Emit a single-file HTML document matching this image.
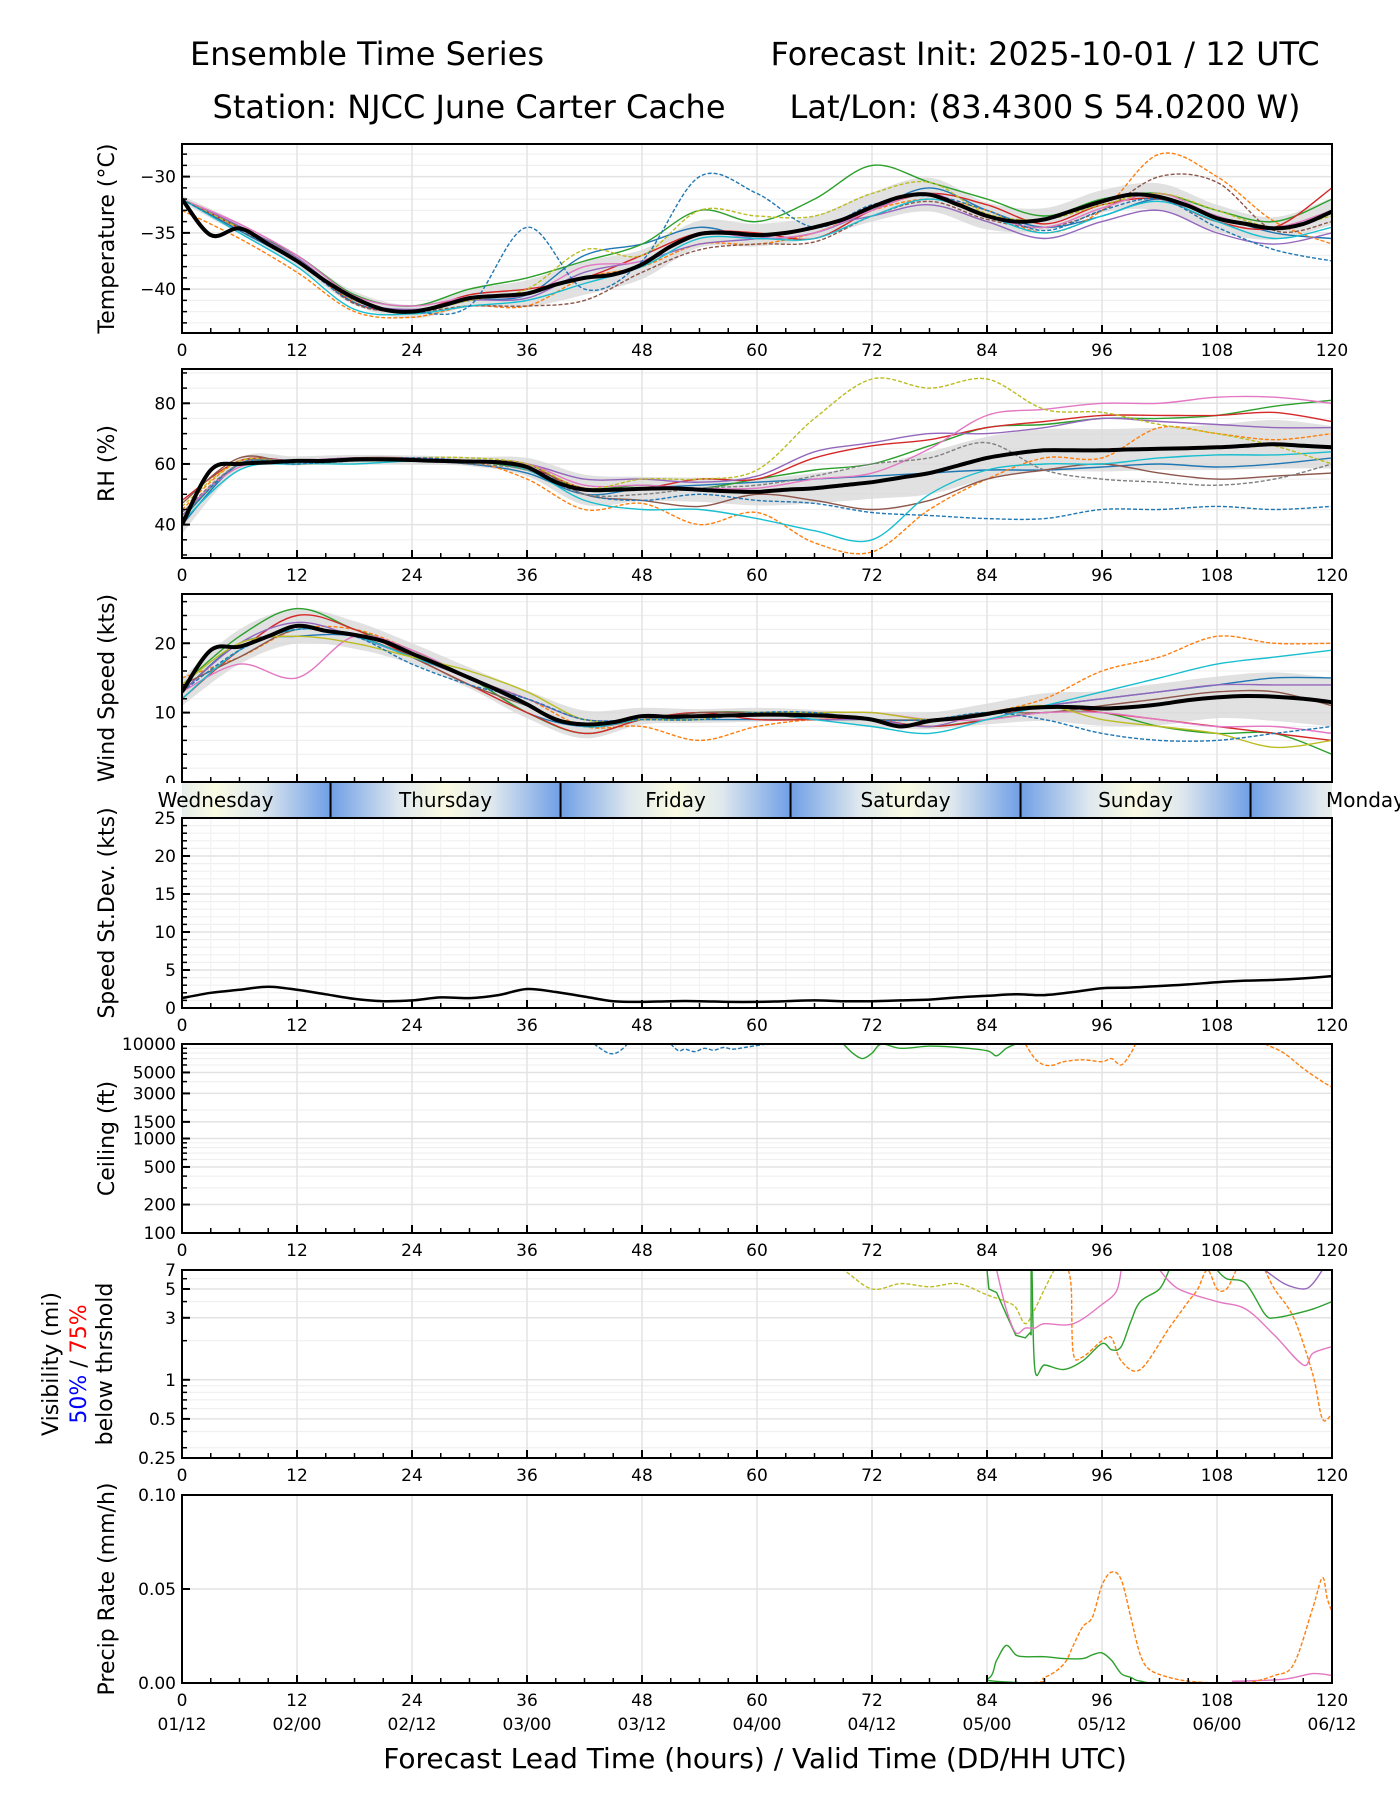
<!DOCTYPE html>
<html><head><meta charset="utf-8">
<style>
html,body{margin:0;padding:0;background:#fff;}
svg{display:block;font-family:"DejaVu Sans","Liberation Sans",sans-serif;}
</style></head>
<body>
<svg id="fig" width="1400" height="1800" viewBox="0 0 1400 1800" xmlns="http://www.w3.org/2000/svg">
<defs>
<linearGradient id="dayg" x1="0" x2="1" y1="0" y2="0">
<stop offset="0" stop-color="#6f9fe6"/><stop offset="0.3" stop-color="#dfe8ee"/><stop offset="0.5" stop-color="#fbfbe2"/><stop offset="0.7" stop-color="#dfe8ee"/><stop offset="1" stop-color="#6f9fe6"/>
</linearGradient>
<clipPath id="cp1"><rect x="182" y="144" width="1150" height="189"/></clipPath>
<clipPath id="cp2"><rect x="182" y="369" width="1150" height="189"/></clipPath>
<clipPath id="cp3"><rect x="182" y="594" width="1150" height="188"/></clipPath>
<clipPath id="cp4"><rect x="182" y="818" width="1150" height="190"/></clipPath>
<clipPath id="cp5"><rect x="182" y="1044" width="1150" height="189"/></clipPath>
<clipPath id="cp6"><rect x="182" y="1270" width="1150" height="188"/></clipPath>
<clipPath id="cp7"><rect x="182" y="1495" width="1150" height="188"/></clipPath>
<clipPath id="cpb"><rect x="140" y="783" width="1260" height="35"/></clipPath>
</defs>
<g id="titles" font-size="32" fill="#000">
<text x="367" y="65" text-anchor="middle">Ensemble Time Series</text>
<text x="1045" y="65" text-anchor="middle">Forecast Init: 2025-10-01 / 12 UTC</text>
<text x="469" y="118" text-anchor="middle">Station: NJCC June Carter Cache</text>
<text x="1045" y="118" text-anchor="middle">Lat/Lon: (83.4300 S 54.0200 W)</text>
</g>
<g id="plots"></g>
<text x="755" y="1768" font-size="28" text-anchor="middle">Forecast Lead Time (hours) / Valid Time (DD/HH UTC)</text>
</svg>
<script>
// ---------- DATA ----------
const hours3 = []; for(let h=0;h<=120;h+=3) hours3.push(h);
const hours6 = []; for(let h=0;h<=120;h+=6) hours6.push(h);
const tempMean = [-32,-35.2,-34.6,-36,-37.5,-39.3,-40.8,-41.8,-42,-41.5,-40.8,-40.6,-40.4,-39.6,-39,-38.7,-37.8,-36.2,-35.1,-35,-35.2,-35,-34.5,-33.8,-32.7,-31.8,-31.6,-32.5,-33.5,-34,-33.8,-33,-32.2,-31.6,-31.8,-32.6,-33.7,-34.2,-34.6,-34.2,-33.1];
const tempSpread = [0.3,0.5,0.5,0.6,0.6,0.8,1.2,1.5,1.3,1.2,1,1,1.3,1.5,1.2,1,1,1.2,1.2,1,1.2];
const tempM0 = [-32,-34.8,-37.6,-41,-42,-41,-40.5,-37,-36,-34.5,-35.5,-35,-33,-31,-33,-34.5,-33.5,-32,-33.5,-35,-35.5];
const tempM1 = [-33,-35.5,-38.5,-42,-42.5,-41.5,-41.5,-39,-38,-36,-36,-35,-33,-32,-33,-35,-33,-28,-30,-34,-36];
const tempM2 = [-32,-34.5,-37,-40.5,-41.5,-40,-39,-37.5,-36,-33,-34,-32,-29,-30.5,-32,-33.5,-32,-31.5,-33,-34,-32];
const tempM3 = [-32,-34.6,-37.4,-41.2,-42,-40.5,-40,-39,-37,-35,-35,-35.5,-33,-31.5,-32.5,-34.2,-32.5,-32,-34,-34.5,-31];
const tempM4 = [-32,-34.4,-37.2,-41,-41.8,-41,-40.8,-38.5,-37.5,-36,-35.5,-34.5,-33.5,-32.5,-34,-35.5,-34,-33,-35,-36,-35];
const tempM5 = [-32,-34.8,-37.4,-41.3,-42,-41.5,-41.5,-41,-38.5,-36.5,-36,-35.8,-33.5,-32.2,-33.8,-34.5,-33,-30,-30.5,-34.8,-34];
const tempM6 = [-32,-34.2,-37,-40.6,-41.5,-40.7,-40.5,-38,-37.5,-35,-35.5,-35,-33,-31.5,-33.5,-34.5,-32.8,-31.5,-33.5,-34.5,-33];
const tempM7 = [-32,-35,-38,-41.8,-42.2,-41.5,-41,-39.5,-38,-35.5,-35.5,-35.5,-33.5,-32,-33.5,-35,-33.5,-32.2,-34,-35.5,-34.5];
const tempM8 = [-32,-34.6,-37.5,-41,-42,-41,-40,-36.5,-37,-33,-33.5,-33.5,-31.5,-30.5,-33.3,-33.8,-32.5,-31.5,-33,-34.5,-33.5];
const tempM9 = [-32,-34.8,-37.6,-41.2,-42,-41.5,-34.5,-40,-37.5,-30,-31.5,-34.5,-32.5,-31.7,-33,-34.8,-33,-32,-34.5,-36.5,-37.5];
const rhMean = [40,58,60,60.5,61,61,61.5,61.5,61.3,61,60.8,60.5,59,54,51.5,51.5,51.8,52,51.5,51,50.8,51.5,52,53,54,55.5,57,59.5,62,63.5,64.5,64.5,64.5,64.8,65,65.2,65.5,66,66.5,66,65.5];
const rhSpread = [3,2,1.5,1.5,1.5,1.5,3,5,4,4,4.5,5,5.5,7,7,7,7,7,7.5,8,7];
const rhM0 = [40,60,61,61,61,60,57,50,52,53,54,55,56,57,58,58,59,60,59,60,62];
const rhM1 = [45,61,60,61,61,61,55,45,47,40,44,34,31,45,55,62,62,72,70,68,70];
const rhM2 = [42,60,60,61,61,61,58,52,53,52,55,58,60,66,72,73,75,75,76,79,81];
const rhM3 = [48,61,61,62,61,61,59,52,52,55,55,62,66,68,72,74,76,76,76,77,74];
const rhM4 = [43,60,61,62,62,61,60,55,55,54,56,64,67,70,70,72,75,74,73,72,72];
const rhM5 = [47,62,60,62,62,61,60,50,48,46,50,48,45,48,55,58,60,57,55,56,57];
const rhM6 = [44,59,60,61,62,61,60,53,53,52,52,55,57,65,76,78,80,80,82,82,80];
const rhM7 = [41,58,60,60,61,61,58,48,45,45,42,38,35,50,58,60,60,62,63,63,64];
const rhM8 = [46,61,60,61,62,62,60,52,55,55,58,75,88,85,88,78,77,73,70,66,60];
const rhM9 = [42,60,60,61,62,61,59,50,48,50,48,47,44,43,42,42,45,45,46,45,46];
const rhM10 = [44,60,61,61,61,60,58,50,50,52,53,56,60,62,67,58,55,54,53,55,60];
const windMean = [13,19,19.5,21,22.5,21.8,21.2,20.3,18.5,16.8,15,13.2,11.2,9,8.3,8.6,9.5,9.4,9.5,9.6,9.7,9.7,9.6,9.4,9,8,8.8,9.2,9.8,10.5,10.8,10.8,10.6,10.8,11.2,11.8,12.2,12.4,12.3,12,11.5];
const windSpread = [2,2.5,2.5,2,1.5,1.5,2,2,1.2,1,1,0.8,1,1.2,1.5,2,2.5,3,3,3.5,3.5];
const windM0 = [13,20,21,21,18,15,10,8,9,9,9,9,9,9,10,11,12,13,14,15,15];
const windM1 = [15,18,22,22,19,15,12,8,8,6,8,9,9,9,10,12,16,18,21,20,20];
const windM2 = [14,21,25,22,19,15,10,7,9,10,10,9,9,8,9,10,10,8,7,7,4];
const windM3 = [12,19,24,22,18,14,10,7,9,10,9,9,9,8,9,11,10,9,8,7,6];
const windM4 = [13,20,23,21,18,15,12,9,9,9,10,9,9,8,10,11,12,13,14,14,14];
const windM5 = [14,18,22,21,18,14,11,8,9,10,10,10,9,9,10,10,11,12,13,13,11];
const windM6 = [13,17,15,21,19,15,11,8,9,9,10,10,10,9,9,10,10,9,8,8,7];
const windM7 = [12,19,22,21,18,15,11,8,9,9,10,9,8,7,9,11,13,15,17,18,19];
const windM8 = [14,20,21,20,18,16,13,9,9,9,10,10,10,9,10,11,9,8,7,5,6];
const windM9 = [13,19,22,21,17,14,12,9,9,9,10,10,9,9,10,9,7,6,6,7,8];
const sdevVals = [1.3,2.0,2.4,2.8,2.4,1.8,1.2,0.9,1.0,1.4,1.3,1.7,2.5,2.1,1.5,0.9,0.8,0.9,0.9,0.8,0.8,0.9,1.0,0.9,0.9,1.0,1.1,1.4,1.6,1.8,1.7,2.1,2.6,2.7,2.9,3.1,3.4,3.6,3.7,3.9,4.2];
const ceilBlueA_h = [43,44.5,45.5,46.5]; const ceilBlueA_v = [10000,8000,8200,10000];
const ceilBlueB_h = [51,51.8,52.5,53.5,54.5,55.5,56.5,57.5,59,61]; const ceilBlueB_v = [10000,8500,8800,8300,9000,8600,9200,8800,9300,10000];
const ceilGreen_h = [69,70,71,72,73,75,78,81,84,85,86,87]; const ceilGreen_v = [10000,8000,7000,8000,10000,9000,9500,9200,8500,7500,9000,10000];
const ceilOrgA_h = [88,89,90,91,92,94,96,97,98,99,99.5]; const ceilOrgA_v = [10000,7000,6000,6000,6500,6800,6500,7000,6000,8000,10000];
const ceilOrgB_h = [113,115,117,119,120]; const ceilOrgB_v = [10000,8000,5500,4000,3500];
const visOlive_h = [66,69,72,75,78,81,84,86,87,88,89,90,91]; const visOlive_v = [9,7,5,5.5,5.2,5.5,4.5,4,3.6,2.7,3.5,5,7];
const visGreenA_h = [84,84.2,85,86,87,88,88.5,88.6,88.6]; const visGreenA_v = [7,5,4.7,3.2,2.2,2.1,2.3,2.2,7];
const visGreenB_h = [88.7,89,90,92,94,96,97,98,99,100,102,103]; const visGreenB_v = [7,1.2,1.3,1.2,1.4,1.9,1.7,1.8,2.8,4,5,7];
const visGreenC_h = [108,109,111,113,114,116,118,120]; const visGreenC_v = [7,6,5.5,3.2,3,3.2,3.5,4];
const visPinkA_h = [85,86,87,88,89,90,93,96,97.5,98]; const visPinkA_v = [7,3.5,2.3,2.5,2.5,2.7,2.7,3.8,4.8,7];
const visPinkB_h = [102,104,108,111,114,117,118,120]; const visPinkB_v = [7,5,4,3.5,2.2,1.3,1.6,1.8];
const visOrgA_h = [92.5,92.8,93,94,96,97,98,100,103,105,106,107,108,109,110]; const visOrgA_v = [7,5,1.6,1.5,2,2.1,1.4,1.2,2.5,4,5,7,5,5,7];
const visOrgB_h = [113,114,116,118,119,120]; const visOrgB_v = [7,5,3,1.1,0.5,0.55];
const visPurple_h = [113,115,117,118,119]; const visPurple_v = [7,5.5,5,5.5,7];
const prOrg_h = [0,60,87,90,92,93,94,95,96,97,98,99,100,101,103,105,108,111,114,116,118,119,119.5,120]; const prOrg_v = [0,0,0,0.003,0.01,0.02,0.03,0.035,0.052,0.059,0.055,0.035,0.015,0.007,0.003,0.001,0,0,0.004,0.01,0.04,0.056,0.045,0.038];
const prGreen_h = [0,80,84,85,86,87,88,90,92,94,95,96,97,98,99,100,103,120]; const prGreen_v = [0,0,0.002,0.012,0.02,0.015,0.014,0.014,0.013,0.013,0.015,0.016,0.012,0.005,0.003,0.001,0,0];
const prPink_h = [0,100,110,115,118,120]; const prPink_v = [0,0,0.001,0.002,0.005,0.004];
const xTickHours = [0,12,24,36,48,60,72,84,96,108,120];
const dateLabels = ["01/12","02/00","02/12","03/00","03/12","04/00","04/12","05/00","05/12","06/00","06/12"];
const dayNames = ["Wednesday","Thursday","Friday","Saturday","Sunday","Monday"];
const dayStarts = [-8.5,15.5,39.5,63.5,87.5,111.5];

// ---------- HELPERS ----------
const NS="http://www.w3.org/2000/svg";
const root=document.getElementById('plots');
const X0=182, X1=1332;
function xs(h){return X0+(X1-X0)*h/120;}
function mk(tag,attrs,parent){const e=document.createElementNS(NS,tag);for(const k in attrs)e.setAttribute(k,attrs[k]);(parent||root).appendChild(e);return e;}
function smoothPath(pts){
  if(pts.length<2)return '';
  let d='M'+pts[0][0].toFixed(1)+','+pts[0][1].toFixed(1);
  for(let i=0;i<pts.length-1;i++){
    const p0=pts[i-1]||pts[i],p1=pts[i],p2=pts[i+1],p3=pts[i+2]||p2;
    const c1=[p1[0]+(p2[0]-p0[0])/6,p1[1]+(p2[1]-p0[1])/6],c2=[p2[0]-(p3[0]-p1[0])/6,p2[1]-(p3[1]-p1[1])/6];
    d+='C'+c1[0].toFixed(1)+','+c1[1].toFixed(1)+' '+c2[0].toFixed(1)+','+c2[1].toFixed(1)+' '+p2[0].toFixed(1)+','+p2[1].toFixed(1);
  }
  return d;
}
const tab=['#1f77b4','#ff7f0e','#2ca02c','#d62728','#9467bd','#8c564b','#e377c2','#17becf','#bcbd22','#1f77b4','#7f7f7f'];

function panel(o){
  const g=mk('g',{});
  
  
  const {top,bot}=o;
  const ys=o.ys;
  (o.minorY||[]).forEach(v=>{const y=ys(v);mk('line',{x1:X0,x2:X1,y1:y,y2:y,stroke:'#f0f0f0','stroke-width':1.2},g);});
  for(let h=3;h<120;h+=3){ if(h%12===0)continue; if(o.minorX){const x=xs(h);mk('line',{x1:x,x2:x,y1:top,y2:bot,stroke:'#f3f3f3','stroke-width':1.2},g);} }
  o.yticks.forEach(v=>{const y=ys(v);mk('line',{x1:X0,x2:X1,y1:y,y2:y,stroke:'#e3e3e3','stroke-width':1.5},g);});
  xTickHours.forEach(h=>{const x=xs(h);mk('line',{x1:x,x2:x,y1:top,y2:bot,stroke:'#e3e3e3','stroke-width':1.5},g);});
  const d=mk('g',{'clip-path':'url(#'+o.clip+')'},g);
  o.draw(d,ys);
  const fr=mk('rect',{x:X0,y:top,width:X1-X0,height:bot-top,fill:'none',stroke:'#000','stroke-width':2},g);
  
  
  for(let h=0;h<=120;h+=3){const x=xs(h);const L=h%12===0?8:5;mk('line',{x1:x,x2:x,y1:bot,y2:bot-L,stroke:'#000','stroke-width':h%12===0?2:1.5},g);}
  xTickHours.forEach(h=>{const t=mk('text',{x:xs(h),y:bot+23,'font-size':17,'text-anchor':'middle'},g);t.textContent=h;
    
    });
  (o.minorY||[]).forEach(v=>{const y=ys(v);mk('line',{x1:X0,x2:X0+5,y1:y,y2:y,stroke:'#000','stroke-width':1.5},g);});
  o.yticks.forEach((v,i)=>{const y=ys(v);mk('line',{x1:X0,x2:X0+8,y1:y,y2:y,stroke:'#000','stroke-width':2},g);
    const t=mk('text',{x:X0-6,y:y+6,'font-size':17,'text-anchor':'end'},g);t.textContent=o.ylabels[i];
    
    });
  const cy=(top+bot)/2;
  if(o.ytitle){const t=mk('text',{x:0,y:0,'font-size':22,'text-anchor':'middle',transform:'translate('+(o.ytx||114)+','+cy+') rotate(-90)'},g);t.textContent=o.ytitle;
    
    }
  return g;
}
function lin(lo,hi,top,bot){return v=>bot-(v-lo)/(hi-lo)*(bot-top);}
function logs(lo,hi,top,bot){return v=>bot-(Math.log10(v)-Math.log10(lo))/(Math.log10(hi)-Math.log10(lo))*(bot-top);}
function ensemble(g,ys,mean,spread,members,dashes){
  const up=[],lo=[];
  hours6.forEach((h,i)=>{const m=mean[i*2];up.push([xs(h),ys(m+spread[i])]);lo.push([xs(h),ys(m-spread[i])]);});
  const band=mk('path',{d:smoothPath(up)+'L'+smoothPath(lo.slice().reverse()).slice(1)+'Z',fill:'#d9d9d9',opacity:0.8},g);
  
  
  members.forEach((arr,k)=>{
    const p=mk('path',{d:smoothPath(hours6.map((h,i)=>[xs(h),ys(arr[i])])),fill:'none',stroke:tab[k%tab.length],'stroke-width':1.4,'stroke-dasharray':dashes[k]?'4,2':'none'},g);
    
    
  });
  const ml=mk('path',{d:smoothPath(hours3.map((h,i)=>[xs(h),ys(mean[i])])),fill:'none',stroke:'#000','stroke-width':4},g);
  
  
}
function seg(g,hs,vs,ys,color,dash,name,smooth){
  const pts=hs.map((h,i)=>[xs(h),ys(vs[i])]);
  const d=smooth?smoothPath(pts):'M'+pts.map(p=>p[0].toFixed(1)+','+p[1].toFixed(1)).join('L');
  const p=mk('path',{d:d,fill:'none',stroke:color,'stroke-width':1.4,'stroke-dasharray':dash?'4,2':'none'},g);
  
  
}
function range(a,b,s){const r=[];for(let v=a;v<=b+1e-9;v+=s)r.push(+v.toFixed(4));return r;}

panel({name:'temperature',top:144,bot:333,clip:'cp1',ys:lin(-43.9,-27.1,144,333),yticks:[-30,-35,-40],ylabels:['\u221230','\u221235','\u221240'],
 minorY:range(-43,-28,1),ytitle:'Temperature (\u00b0C)',
 draw:(g,ys)=>ensemble(g,ys,tempMean,tempSpread,[tempM0,tempM1,tempM2,tempM3,tempM4,tempM5,tempM6,tempM7,tempM8,tempM9],[0,1,0,0,0,1,0,0,1,1])});
panel({name:'rh',top:369,bot:558,clip:'cp2',ys:lin(29,91.3,369,558),yticks:[40,60,80],ylabels:['40','60','80'],
 minorY:range(30,90,5),ytitle:'RH (%)',
 draw:(g,ys)=>ensemble(g,ys,rhMean,rhSpread,[rhM0,rhM1,rhM2,rhM3,rhM4,rhM5,rhM6,rhM7,rhM8,rhM9,rhM10],[0,1,0,0,0,0,0,0,1,1,1])});
panel({name:'wind-speed',top:594,bot:782,clip:'cp3',ys:lin(0,27.1,594,782),yticks:[0,10,20],ylabels:['0','10','20'],
 minorY:range(2,26,2),ytitle:'Wind Speed (kts)',
 draw:(g,ys)=>ensemble(g,ys,windMean,windSpread,[windM0,windM1,windM2,windM3,windM4,windM5,windM6,windM7,windM8,windM9],[0,1,0,0,0,0,0,0,0,1])});
(function(){
  const g=mk('g',{'clip-path':'url(#cpb)'});
  
  
  dayStarts.forEach((s,i)=>{
    mk('rect',{x:xs(s),y:783,width:xs(s+24)-xs(s),height:35,fill:'url(#dayg)'},g);
    if(i>0){mk('line',{x1:xs(s),x2:xs(s),y1:783,y2:818,stroke:'#000','stroke-width':2},g);}
  });
  mk('rect',{x:140,y:783,width:42,height:35,fill:'#fff'},g);
  mk('rect',{x:1332,y:783,width:68,height:35,fill:'#fff'},g);
  const t=mk('g',{});
  
  
  dayNames.forEach((n,i)=>{const tx=mk('text',{x:xs(dayStarts[i]+12),y:807,'font-size':20,'text-anchor':'middle'},t);tx.textContent=n;
    
    });
})();
panel({name:'speed-stdev',top:818,bot:1008,clip:'cp4',ys:lin(0,25,818,1008),yticks:[0,5,10,15,20,25],ylabels:['0','5','10','15','20','25'],
 minorY:range(1,24,1),minorX:true,ytitle:'Speed St.Dev. (kts)',
 draw:(g,ys)=>{const p=mk('path',{d:smoothPath(hours3.map((h,i)=>[xs(h),ys(sdevVals[i])])),fill:'none',stroke:'#000','stroke-width':2.5},g);
   
   }});
panel({name:'ceiling',top:1044,bot:1233,clip:'cp5',ys:logs(100,10000,1044,1233),yticks:[100,200,500,1000,1500,3000,5000,10000],ylabels:['100','200','500','1000','1500','3000','5000','10000'],
 minorY:[300,400,600,700,800,900,2000,4000,6000,7000,8000,9000],ytitle:'Ceiling (ft)',
 draw:(g,ys)=>{seg(g,ceilBlueA_h,ceilBlueA_v,ys,tab[0],1,'ceiling-member-blue',1);seg(g,ceilBlueB_h,ceilBlueB_v,ys,tab[0],1,'ceiling-member-blue',1);
   seg(g,ceilGreen_h,ceilGreen_v,ys,tab[2],0,'ceiling-member-green',1);seg(g,ceilOrgA_h,ceilOrgA_v,ys,tab[1],1,'ceiling-member-orange',1);seg(g,ceilOrgB_h,ceilOrgB_v,ys,tab[1],1,'ceiling-member-orange',1);}});
(function(){
  const g=panel({name:'visibility',top:1270,bot:1458,clip:'cp6',ys:logs(0.25,7,1270,1458),yticks:[0.25,0.5,1,3,5,7],ylabels:['0.25','0.5','1','3','5','7'],
   minorY:[0.3,0.4,0.6,0.7,0.8,0.9,2,4,6],ytitle:null,
   draw:(g,ys)=>{seg(g,visOlive_h,visOlive_v,ys,tab[8],1,'vis-member-olive',1);
     seg(g,visGreenA_h,visGreenA_v,ys,tab[2],0,'vis-member-green',0);seg(g,visGreenB_h,visGreenB_v,ys,tab[2],0,'vis-member-green',1);seg(g,visGreenC_h,visGreenC_v,ys,tab[2],0,'vis-member-green',1);
     seg(g,visPinkA_h,visPinkA_v,ys,tab[6],0,'vis-member-pink',1);seg(g,visPinkB_h,visPinkB_v,ys,tab[6],0,'vis-member-pink',1);
     seg(g,visOrgA_h,visOrgA_v,ys,tab[1],1,'vis-member-orange',1);seg(g,visOrgB_h,visOrgB_v,ys,tab[1],1,'vis-member-orange',1);
     seg(g,visPurple_h,visPurple_v,ys,tab[4],0,'vis-member-purple',1);}});
  const cy=1364;
  const t1=mk('text',{transform:'translate(58,'+cy+') rotate(-90)','font-size':22,'text-anchor':'middle'},g);t1.textContent='Visibility (mi)';
  
  
  const t2=mk('text',{transform:'translate(86,'+cy+') rotate(-90)','font-size':22,'text-anchor':'middle'},g);
  
  
  const a=mk('tspan',{fill:'#0000ff'},t2);a.textContent='50%';const b=mk('tspan',{fill:'#000'},t2);b.textContent=' / ';const c=mk('tspan',{fill:'#ff0000'},t2);c.textContent='75%';
  const t3=mk('text',{transform:'translate(112,'+cy+') rotate(-90)','font-size':22,'text-anchor':'middle'},g);t3.textContent='below thrshold';
  
  
})();
panel({name:'precip',top:1495,bot:1683,clip:'cp7',ys:lin(0,0.1,1495,1683),yticks:[0,0.05,0.1],ylabels:['0.00','0.05','0.10'],
 minorY:[],ytitle:'Precip Rate (mm/h)',
 draw:(g,ys)=>{seg(g,prGreen_h,prGreen_v,ys,tab[2],0,'precip-member-green',1);seg(g,prPink_h,prPink_v,ys,tab[6],0,'precip-member-pink',1);seg(g,prOrg_h,prOrg_v,ys,tab[1],1,'precip-member-orange',1);}});
dateLabels.forEach((s,i)=>{const t=mk('text',{x:xs(xTickHours[i]),y:1730,'font-size':17,'text-anchor':'middle'});t.textContent=s;
  
  });
</script>
</body></html>
